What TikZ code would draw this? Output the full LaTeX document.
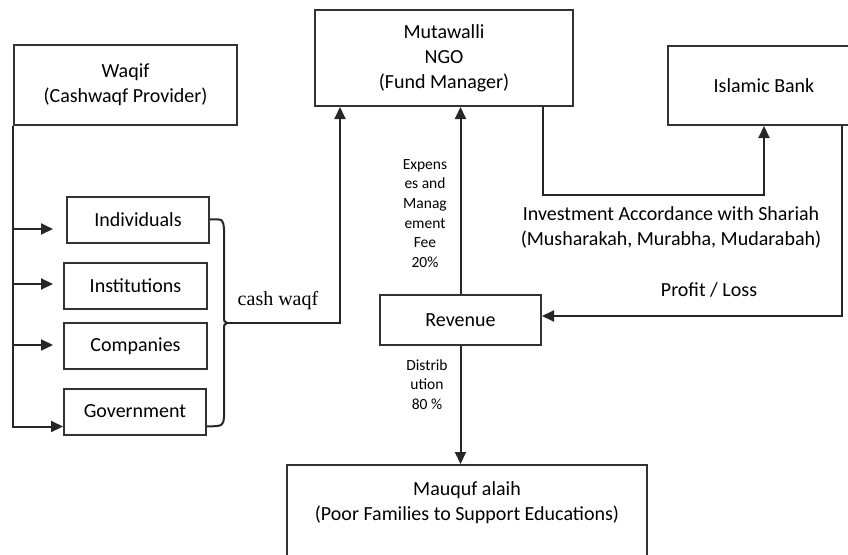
\documentclass[tikz,border=0pt]{standalone}
\usepackage{fontspec}
\setmainfont{Carlito}
\newfontfamily\timesfont{Liberation Serif}
\usetikzlibrary{arrows.meta}
\tikzset{
  box/.style={draw=black!80, line width=2pt, align=center, inner sep=0pt},
  link/.style={draw=black!85, line width=2pt},
  arr/.style={-{Triangle[length=12pt,width=11pt]}},
  small/.style={font=\fontsize{15.5}{19.7}\selectfont, align=center},
}
\begin{document}
\begin{tikzpicture}[x=1pt, y=-1pt, font=\fontsize{20}{25}\selectfont]
\useasboundingbox (0,0) rectangle (848,554);

\node[box, minimum width=223pt, minimum height=80pt] (waqif) at (125.5,85) {Waqif\\(Cashwaqf Provider)}; % donor
\node[box, minimum width=142pt, minimum height=46pt] (indiv) at (138,219.5) {Individuals};
\node[box, minimum width=143pt, minimum height=46pt] (inst) at (135.5,286) {Institutions};
\node[box, minimum width=143pt, minimum height=46pt] (comp) at (135.5,346) {Companies};
\node[box, minimum width=142pt, minimum height=46pt] (gov) at (135,411.5) {Government};

\node[box, minimum width=258pt, minimum height=96pt] (muta) at (444,58) {Mutawalli\\NGO\\(Fund Manager)}; % fund manager
\node[box, minimum width=192pt, minimum height=79pt] (bank) at (764,85.5) {Islamic Bank};
\node[box, minimum width=161pt, minimum height=50pt] (rev) at (460.5,320) {Revenue};
\node[box, minimum width=360pt, minimum height=98pt, anchor=north] (mauquf) at (467,464) {Mauquf alaih\\(Poor Families to Support Educations)\\~}; % beneficiaries

\coordinate (cusp) at (227,323); % tip of the brace

% donors
\draw[link, arr] (waqif.south west) |- ([yshift=-15pt]gov.west);
\draw[link, arr] (waqif.south west |- 0,229) -- (53,229);
\draw[link, arr] (waqif.south west |- 0,284) -- (53,284);
\draw[link, arr] (waqif.south west |- 0,345) -- (53,345);

% brace
\draw[link] (indiv.east) .. controls (223,219) .. (224,229) -- (224,314) .. controls (224,322) .. (cusp)
  .. controls (224,324) .. (224,332) -- (224,417) .. controls (223,426) .. ([yshift=-15pt]gov.east);
\draw[link, arr] (cusp) -| ([xshift=-104pt]muta.south);
\node[font=\timesfont\fontsize{20}{24}\selectfont] (cashlbl) at (278,301) {cash waqf};

% fund flows
\draw[link, arr] (rev.north) -- (rev.north |- muta.south);
\node[small] (feelbl) at (425,213.5) {Expens\\es and\\Manag\\ement\\Fee\\20\%};
\draw[link, arr] ([xshift=99pt]muta.south) -- ++(0,88) -| (bank.south);
\node[align=center] (investlbl) at (671,227) {Investment Accordance with Shariah\\(Musharakah, Murabha, Mudarabah)};
\draw[link, arr] ([xshift=78pt]bank.south) |- ([yshift=4pt]rev.east);
\node (profitlbl) at (709,290) {Profit / Loss};
\draw[link, arr] (rev.south) -- (rev.south |- mauquf.north);
\node[small] (distlbl) at (427,384.5) {Distrib\\ution\\80 \%};

\end{tikzpicture}
\end{document}
